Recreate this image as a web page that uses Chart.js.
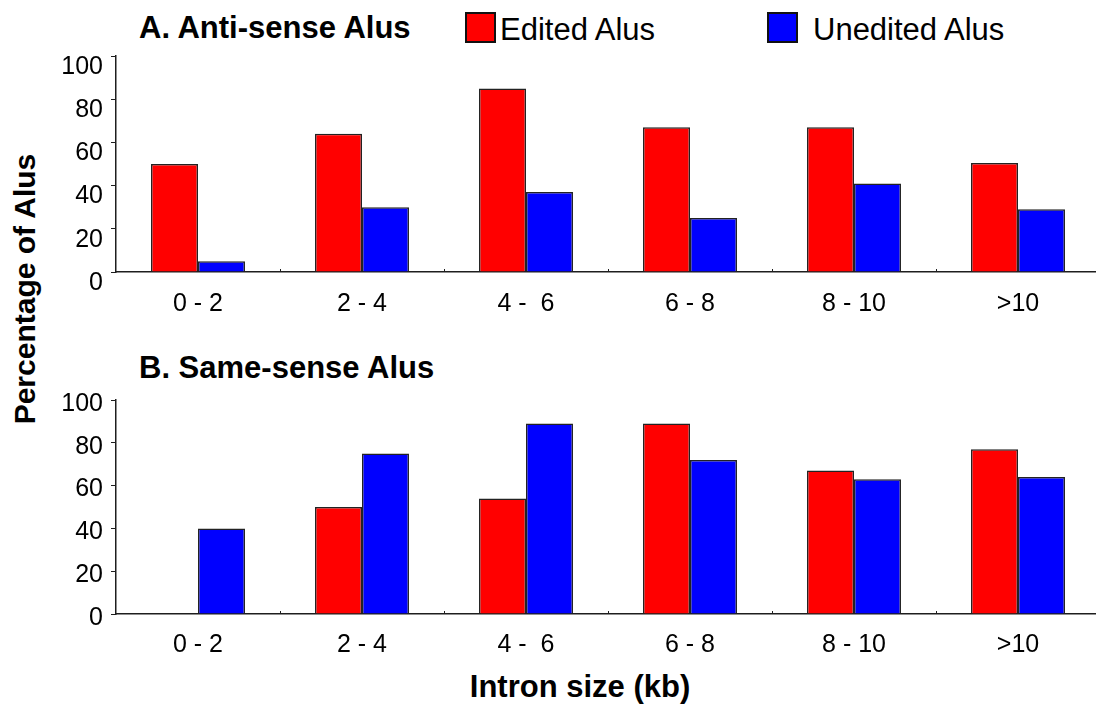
<!DOCTYPE html>
<html>
<head>
<meta charset="utf-8">
<script src="https://cdn.jsdelivr.net/npm/chart.js@4/dist/chart.umd.min.js"></script>
<style>
  html, body { margin: 0; padding: 0; background: #fff; overflow: hidden; width: 1096px; height: 704px; }
  body { position: relative; font-family: "Liberation Sans", Arial, sans-serif; color: #000; }
  canvas { position: absolute; left: 0; }
  .txt { position: absolute; white-space: pre; line-height: 31px; font-size: 31px; }
  .bold { font-weight: bold; }
  .swatch { position: absolute; width: 31px; height: 31px; box-sizing: border-box; border: 2px solid #111; }
  .ytitle { position: absolute; left: 25px; top: 289px; font-size: 30px; font-weight: bold; line-height: 30px;
            white-space: nowrap; transform: translate(-50%, -50%) rotate(-90deg); }
</style>
</head>
<body>
<div class="txt bold" style="left:139px; top:12px;">A. Anti-sense Alus</div>
<div class="txt bold" style="left:139px; top:352px;">B. Same-sense Alus</div>
<div id="sw0" class="swatch" style="left:465px; top:12px;"></div>
<div id="lg0" class="txt" style="left:500px; top:14px;"></div>
<div id="sw1" class="swatch" style="left:767px; top:12px;"></div>
<div id="lg1" class="txt" style="left:813px; top:14px;"></div>
<div class="ytitle">Percentage of Alus</div>
<div class="txt bold" style="left:580px; top:671px; transform: translateX(-50%);">Intron size (kb)</div>

<canvas id="chartA" width="1100" height="330" style="top:0px;"></canvas>
<canvas id="chartB" width="1100" height="360" style="top:340px;"></canvas>

<script>
// Intron size classes (kb)
const categories = ['0 - 2', '2 - 4', '4 -  6', '6 - 8', '8 - 10', '>10'];

// Percentages, anti-sense Alus
const antiEdited   = [50, 64, 85, 67, 67, 50.5];
const antiUnedited = [5, 30, 37, 25, 41, 29];

// Percentages, same-sense Alus
const sameEdited   = [0, 50, 54, 89, 67, 77];
const sameUnedited = [40, 75, 89, 72, 63, 64];

// Y axis tick values
const yTicks = [0, 20, 40, 60, 80, 100];

const seriesNames = ['Edited Alus', 'Unedited Alus'];
const seriesColors = ['#ff0000', '#0000ff'];

const FONT = '"Liberation Sans", Arial, sans-serif';
const AXIS = '#1e1e1e';

// legend entries
seriesNames.forEach((name, i) => {
  document.getElementById('lg' + i).textContent = name;
  document.getElementById('sw' + i).style.background = seriesColors[i];
});

// small upward tick marks between categories on the x axis
const categoryTicks = {
  id: 'categoryTicks',
  afterDatasetsDraw(chart) {
    const xs = chart.scales.x;
    const bottom = chart.chartArea.bottom;
    const ctx = chart.ctx;
    ctx.save();
    ctx.strokeStyle = AXIS;
    ctx.lineWidth = 1;
    for (let i = 1; i < xs.ticks.length; i++) {
      const x = Math.round((xs.getPixelForTick(i - 1) + xs.getPixelForTick(i)) / 2) + 0.5;
      ctx.beginPath();
      ctx.moveTo(x, bottom);
      ctx.lineTo(x, bottom - 3);
      ctx.stroke();
    }
    ctx.restore();
  }
};

function makeChart(id, edited, unedited, opts) {
  return new Chart(document.getElementById(id), {
    type: 'bar',
    data: {
      labels: categories,
      datasets: [
        { label: seriesNames[0], data: edited, backgroundColor: seriesColors[0] },
        { label: seriesNames[1], data: unedited, backgroundColor: seriesColors[1] }
      ]
    },
    options: {
      responsive: false,
      animation: false,
      devicePixelRatio: 1,
      layout: { padding: { top: opts.top, left: 0, right: 0, bottom: 0 } },
      datasets: {
        bar: {
          barPercentage: 1,
          categoryPercentage: 0.573,
          borderWidth: 1.5,
          borderColor: '#222'
        }
      },
      plugins: { legend: { display: false }, tooltip: { enabled: false }, title: { display: false } },
      scales: {
        x: {
          offset: true,
          grid: { display: false },
          border: { display: true, color: AXIS, width: 1.5 },
          ticks: { color: '#000', font: { family: FONT, size: 25 }, padding: opts.xPad, maxRotation: 0, autoSkip: false },
          afterFit(scale) { scale.height = opts.xHeight; }
        },
        y: {
          min: 0,
          max: 100,
          afterBuildTicks(scale) { scale.ticks = yTicks.map(v => ({ value: v })); },
          grid: { display: true, drawOnChartArea: false, drawTicks: true, tickLength: 5, color: AXIS, lineWidth: 1 },
          border: { display: true, color: AXIS, width: 1.5 },
          ticks: { color: '#000', font: { family: FONT, size: 25 }, padding: 8, labelOffset: opts.labelOffset },
          afterFit(scale) { scale.width = 116; }
        }
      }
    },
    plugins: [categoryTicks]
  });
}

makeChart('chartA', antiEdited, antiUnedited, { top: 56, xHeight: 58, xPad: 9, labelOffset: 11 });
makeChart('chartB', sameEdited, sameUnedited, { top: 60, xHeight: 86, xPad: 8, labelOffset: 4 });
</script>
</body>
</html>
